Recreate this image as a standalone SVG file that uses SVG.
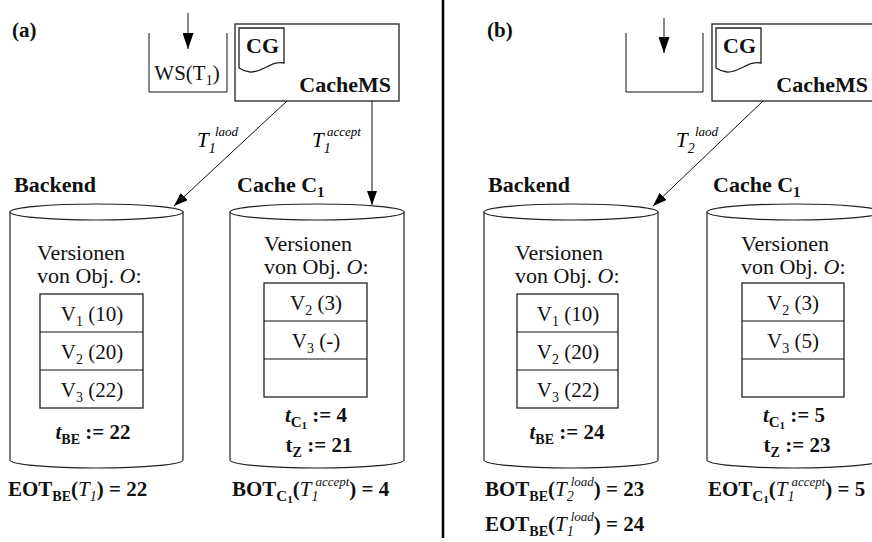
<svg xmlns="http://www.w3.org/2000/svg" width="872" height="542" viewBox="0 0 872 542">
<style>
.r{font-family:"Liberation Serif","Times New Roman",serif;font-size:21px;fill:#111}
.v{font-size:22px}
.b{font-family:"Liberation Serif","Times New Roman",serif;font-size:21px;font-weight:bold;fill:#111}
.h{font-size:22px}
.i{font-family:"Liberation Serif",serif;font-style:italic;font-weight:normal}
.di{font-style:italic}
.ln{stroke:#111;stroke-width:1;fill:none}
.box{stroke:#222;stroke-width:1.3;fill:#fff}
.cyl{stroke:#222;stroke-width:1.2;fill:#fff}
</style>
<defs>
<marker id="ah" viewBox="0 0 14 10" refX="14" refY="5" markerWidth="14" markerHeight="10" markerUnits="userSpaceOnUse" orient="auto"><path d="M0,0 L14,5 L0,10 z" fill="#000"/></marker>
<marker id="big" viewBox="0 0 16 11" refX="16" refY="5.5" markerWidth="16" markerHeight="11" markerUnits="userSpaceOnUse" orient="auto"><path d="M0,0 L16,5.5 L0,11 z" fill="#000"/></marker>
</defs>

<line x1="443" y1="0" x2="443" y2="538" stroke="#000" stroke-width="2.5"/>

<!-- Panel a -->
<text class="b" x="12" y="37">(a)</text>

<g id="ws-a">
<path class="ln" d="M149,33 V92 H227 V33" stroke="#333" stroke-width="1.2"/>
<text class="r" x="187" y="80" text-anchor="middle">WS(T<tspan font-size="14" dy="5">1</tspan><tspan dy="-5">)</tspan></text>
</g>

<g id="cachems-a">
<rect class="box" x="235" y="24" width="164" height="77"/>
<path class="box" d="M239,28 H284 V63 C272,60 262,73 250,72 C245,71.5 242,70 239,68 Z"/>
<text class="b h" x="246" y="53">CG</text>
<text class="b h" x="391" y="92" text-anchor="end">CacheMS</text>
</g>

<g id="backend-a">
<text class="b h" x="14" y="192">Backend</text>
<path class="cyl" d="M10,212 V460 A86.5,8 0 0 0 183,460 V212"/>
<ellipse class="cyl" cx="96.5" cy="212" rx="86.5" ry="8"/>
<text class="r v" x="37" y="260">Versionen</text>
<text class="r v" x="37" y="283">von Obj. <tspan class="di">O</tspan>:</text>
<rect class="box" x="40" y="294" width="103" height="114"/>
<line class="ln" x1="40" y1="332" x2="143" y2="332"/>
<line class="ln" x1="40" y1="370" x2="143" y2="370"/>
<text class="r" x="92" y="321" text-anchor="middle">V<tspan font-size="14" dy="5">1</tspan><tspan dy="-5"> (10)</tspan></text>
<text class="r" x="92" y="359" text-anchor="middle">V<tspan font-size="14" dy="5">2</tspan><tspan dy="-5"> (20)</tspan></text>
<text class="r" x="92" y="397" text-anchor="middle">V<tspan font-size="14" dy="5">3</tspan><tspan dy="-5"> (22)</tspan></text>
<text class="b" x="93" y="439" text-anchor="middle"><tspan font-style="italic">t</tspan><tspan font-size="14" dy="5">BE</tspan><tspan dy="-5"> := 22</tspan></text>
</g>

<g id="cache-a">
<text class="b h" x="237" y="192">Cache C<tspan font-size="15" dy="5">1</tspan></text>
<path class="cyl" d="M230,212 V460 A87,8 0 0 0 404,460 V212"/>
<ellipse class="cyl" cx="317" cy="212" rx="87" ry="8"/>
<text class="r v" x="264" y="251">Versionen</text>
<text class="r v" x="264" y="274">von Obj. <tspan class="di">O</tspan>:</text>
<rect class="box" x="264" y="283" width="103" height="114"/>
<line class="ln" x1="264" y1="321" x2="367" y2="321"/>
<line class="ln" x1="264" y1="359" x2="367" y2="359"/>
<text class="r" x="316" y="310" text-anchor="middle">V<tspan font-size="14" dy="5">2</tspan><tspan dy="-5"> (3)</tspan></text>
<text class="r" x="316" y="348" text-anchor="middle">V<tspan font-size="14" dy="5">3</tspan><tspan dy="-5"> (-)</tspan></text>
<text class="b" x="316" y="422" text-anchor="middle"><tspan font-style="italic">t</tspan><tspan font-size="15" dy="5">C</tspan><tspan font-size="11" dy="2">1</tspan><tspan dy="-7"> := 4</tspan></text>
<text class="b" x="319" y="452" text-anchor="middle">t<tspan font-size="14" dy="5">Z</tspan><tspan dy="-5"> := 21</tspan></text>
</g>

<g id="eq-a">
<text class="b" x="8" y="496">EOT<tspan font-size="14" dy="5">BE</tspan><tspan dy="-5">(</tspan><tspan class="i" font-size="21">T</tspan><tspan class="i" font-size="14" dy="5">1</tspan><tspan dy="-5">) = 22</tspan></text>
<text class="b" x="232" y="496">BOT<tspan font-size="15" dy="5">C</tspan><tspan font-size="11" dy="2">1</tspan><tspan dy="-7">(</tspan><tspan class="i" font-size="21">T</tspan><tspan class="i" font-size="14" dy="5">1</tspan><tspan class="i" font-size="13" dx="-3" dy="-15">accept</tspan><tspan dy="10">) = 4</tspan></text>
</g>

<g id="connectors">
<line class="ln" x1="188" y1="13" x2="188" y2="49" stroke-width="1.5" marker-end="url(#big)"/>
<line class="ln" x1="287" y1="101" x2="174" y2="206" marker-end="url(#ah)"/>
<line class="ln" x1="372" y1="101" x2="372" y2="205" marker-end="url(#ah)"/>
<line class="ln" x1="664" y1="18" x2="664" y2="53" stroke-width="1.5" marker-end="url(#big)"/>
<line class="ln" x1="763" y1="101" x2="653" y2="206" marker-end="url(#ah)"/>
<text class="i" font-size="21" x="197" y="147">T<tspan font-size="14" dy="6">1</tspan></text>
<text class="i" font-size="13" x="215" y="136">laod</text>
<text class="i" font-size="21" x="312" y="147">T<tspan font-size="14" dy="6">1</tspan></text>
<text class="i" font-size="13" x="327" y="136">accept</text>
<text class="i" font-size="21" x="676" y="147">T<tspan font-size="14" dy="6">2</tspan></text>
<text class="i" font-size="13" x="695" y="136">laod</text>
</g>

<!-- Panel b -->
<text class="b" x="487" y="37">(b)</text>

<g id="ws-b">
<path class="ln" d="M626,33 V92 H703 V33" stroke="#333" stroke-width="1.2"/>
</g>

<g id="cachems-b">
<rect class="box" x="712" y="24" width="164" height="77"/>
<path class="box" d="M716,28 H761 V63 C749,60 739,73 727,72 C722,71.5 719,70 716,68 Z"/>
<text class="b h" x="723" y="53">CG</text>
<text class="b h" x="868" y="92" text-anchor="end">CacheMS</text>
</g>

<g id="backend-b">
<text class="b h" x="488" y="192">Backend</text>
<path class="cyl" d="M484,212 V460 A87,8 0 0 0 658,460 V212"/>
<ellipse class="cyl" cx="571" cy="212" rx="87" ry="8"/>
<text class="r v" x="515" y="260">Versionen</text>
<text class="r v" x="515" y="283">von Obj. <tspan class="di">O</tspan>:</text>
<rect class="box" x="517" y="294" width="101" height="114"/>
<line class="ln" x1="517" y1="332" x2="618" y2="332"/>
<line class="ln" x1="517" y1="370" x2="618" y2="370"/>
<text class="r" x="568" y="321" text-anchor="middle">V<tspan font-size="14" dy="5">1</tspan><tspan dy="-5"> (10)</tspan></text>
<text class="r" x="568" y="359" text-anchor="middle">V<tspan font-size="14" dy="5">2</tspan><tspan dy="-5"> (20)</tspan></text>
<text class="r" x="568" y="397" text-anchor="middle">V<tspan font-size="14" dy="5">3</tspan><tspan dy="-5"> (22)</tspan></text>
<text class="b" x="567" y="439" text-anchor="middle"><tspan font-style="italic">t</tspan><tspan font-size="14" dy="5">BE</tspan><tspan dy="-5"> := 24</tspan></text>
</g>

<g id="cache-b">
<text class="b h" x="713" y="192">Cache C<tspan font-size="15" dy="5">1</tspan></text>
<path class="cyl" d="M707,212 V460 A87,8 0 0 0 881,460 V212"/>
<ellipse class="cyl" cx="794" cy="212" rx="87" ry="8"/>
<text class="r v" x="741" y="251">Versionen</text>
<text class="r v" x="741" y="274">von Obj. <tspan class="di">O</tspan>:</text>
<rect class="box" x="742" y="283" width="102" height="114"/>
<line class="ln" x1="742" y1="321" x2="844" y2="321"/>
<line class="ln" x1="742" y1="359" x2="844" y2="359"/>
<text class="r" x="793" y="310" text-anchor="middle">V<tspan font-size="14" dy="5">2</tspan><tspan dy="-5"> (3)</tspan></text>
<text class="r" x="793" y="348" text-anchor="middle">V<tspan font-size="14" dy="5">3</tspan><tspan dy="-5"> (5)</tspan></text>
<text class="b" x="794" y="422" text-anchor="middle"><tspan font-style="italic">t</tspan><tspan font-size="15" dy="5">C</tspan><tspan font-size="11" dy="2">1</tspan><tspan dy="-7"> := 5</tspan></text>
<text class="b" x="797" y="452" text-anchor="middle">t<tspan font-size="14" dy="5">Z</tspan><tspan dy="-5"> := 23</tspan></text>
</g>

<g id="eq-b">
<text class="b" x="485" y="496">BOT<tspan font-size="14" dy="5">BE</tspan><tspan dy="-5">(</tspan><tspan class="i" font-size="21">T</tspan><tspan class="i" font-size="14" dy="5">2</tspan><tspan class="i" font-size="13" dx="-3" dy="-15">load</tspan><tspan dy="10">) = 23</tspan></text>
<text class="b" x="485" y="531">EOT<tspan font-size="14" dy="5">BE</tspan><tspan dy="-5">(</tspan><tspan class="i" font-size="21">T</tspan><tspan class="i" font-size="14" dy="5">1</tspan><tspan class="i" font-size="13" dx="-3" dy="-15">load</tspan><tspan dy="10">) = 24</tspan></text>
<text class="b" x="708" y="496">EOT<tspan font-size="15" dy="5">C</tspan><tspan font-size="11" dy="2">1</tspan><tspan dy="-7">(</tspan><tspan class="i" font-size="21">T</tspan><tspan class="i" font-size="14" dy="5">1</tspan><tspan class="i" font-size="13" dx="-3" dy="-15">accept</tspan><tspan dy="10">) = 5</tspan></text>
</g>
</svg>
